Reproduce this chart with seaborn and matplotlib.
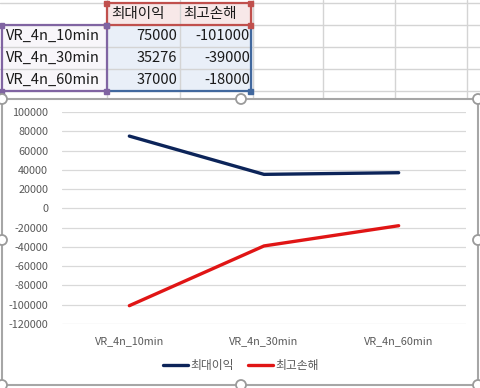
import numpy as np
import pandas as pd
import matplotlib
matplotlib.use("Agg")
import matplotlib.pyplot as plt
from matplotlib.patches import Rectangle, FancyBboxPatch, Circle
import seaborn as sns

categories = ["VR_4n_10min", "VR_4n_30min", "VR_4n_60min"]
max_profit = [75000, 35276, 37000]
max_loss = [-101000, -39000, -18000]
series_names = ["최대이익", "최고손해"]
yticks = list(range(-120000, 100001, 20000))

sns.set_theme(style="white")
plt.rcParams["font.family"] = ["Noto Sans CJK KR", "DejaVu Sans"]

W, H = 481, 388
fig = plt.figure(figsize=(W / 100, H / 100), dpi=100)

# ---- background "spreadsheet" layer in pixel coordinates ----
bg = fig.add_axes([0, 0, 1, 1])
bg.set_xlim(0, W)
bg.set_ylim(H, 0)
bg.axis("off")

grid_c = "#d4d4d4"
col_x = [107, 180, 253, 323, 395, 467]
row_y = [3, 25, 47, 69, 91]
for x in col_x:
    bg.plot([x, x], [0, 99], color=grid_c, lw=1, zorder=1)
for y in row_y:
    bg.plot([0, W], [y, y], color=grid_c, lw=1, zorder=1)

# cell fills
bg.add_patch(Rectangle((107, 3), 146, 22, color="#f7e8e8", zorder=0.5))
bg.add_patch(Rectangle((0, 25), 107, 66, color="#f8f6fa", zorder=0.5))
bg.add_patch(Rectangle((107, 25), 146, 66, color="#e9eff8", zorder=0.5))

# cell text
cell_fs = 10.5
bg.text(111, 14, series_names[0], fontsize=cell_fs, va="center", ha="left", color="#1a1a1a", zorder=3)
bg.text(183, 14, series_names[1], fontsize=cell_fs, va="center", ha="left", color="#1a1a1a", zorder=3)
for i, cat in enumerate(categories):
    yc = 36 + 22 * i
    bg.text(6, yc, cat, fontsize=cell_fs, va="center", ha="left", color="#1a1a1a", zorder=3)
    bg.text(177, yc, str(max_profit[i]), fontsize=cell_fs, va="center", ha="right", color="#1a1a1a", zorder=3)
    bg.text(250, yc, str(max_loss[i]), fontsize=cell_fs, va="center", ha="right", color="#1a1a1a", zorder=3)

# range highlight borders + handles
red, purple, blue = "#c0504d", "#8064a2", "#41689e"
bg.add_patch(Rectangle((107, 3), 144, 22, fill=False, ec=red, lw=1.6, zorder=4))
bg.add_patch(Rectangle((2, 25), 105, 66, fill=False, ec=purple, lw=1.6, zorder=4))
bg.plot([110, 251, 251], [91, 91, 27], color=blue, lw=1.6, zorder=4)
hs = 5
for (x, y) in [(107, 3), (251, 3), (107, 25), (251, 25)]:
    bg.add_patch(Rectangle((x - hs / 2, y - hs / 2), hs, hs, color=red, zorder=5))
for (x, y) in [(2, 25), (107, 25), (2, 91), (107, 91)]:
    bg.add_patch(Rectangle((x - hs / 2, y - hs / 2), hs, hs, color=purple, zorder=5))
bg.add_patch(Rectangle((251 - hs / 2, 91 - hs / 2), hs, hs, color=blue, zorder=5))

# chart object frame
bg.add_patch(FancyBboxPatch((2, 99), 476, 286, boxstyle="round,pad=0,rounding_size=4",
                            fc="white", ec="#a6a6a6", lw=1.5, zorder=6))
for (x, y) in [(2, 99), (241, 99), (478, 99), (2, 240), (478, 240),
               (2, 385), (241, 385), (478, 385)]:
    bg.add_patch(Circle((x, y), 5, fc="white", ec="#9a9a9a", lw=1.3, zorder=7))

# ---- chart ----
ax = fig.add_axes([62 / W, 1 - 324 / H, 404 / W, 212 / H])
ax.set_zorder(10)
ax.patch.set_alpha(0)

df = pd.DataFrame({
    "cat": categories * 2,
    "value": max_profit + max_loss,
    "series": [series_names[0]] * 3 + [series_names[1]] * 3,
})
sns.lineplot(data=df, x="cat", y="value", hue="series", sort=False,
             palette=["#0c2459", "#e01515"], linewidth=2.4, ax=ax)

ax.set_xlim(-0.5, 2.5)
ax.set_ylim(-120000, 100000)
ax.set_yticks(yticks)
ax.set_yticklabels([str(v) for v in yticks])
ax.grid(axis="y", color="#d9d9d9", lw=0.9)
ax.grid(axis="x", visible=False)
for s in ax.spines.values():
    s.set_visible(False)
ax.set_xlabel("")
ax.set_ylabel("")
ax.tick_params(axis="both", length=0, labelsize=7.8, labelcolor="#595959")
ax.tick_params(axis="y", pad=10)
ax.tick_params(axis="x", pad=9)

handles, labels = ax.get_legend_handles_labels()
ax.legend(handles, labels, loc="center", bbox_to_anchor=(241 / W, 1 - 366 / H),
          bbox_transform=fig.transFigure, ncol=2, frameon=False, fontsize=8.5,
          handlelength=2.1, handletextpad=0.2, columnspacing=1.2,
          labelcolor="#595959")

fig.savefig("out.png", dpi=100)
